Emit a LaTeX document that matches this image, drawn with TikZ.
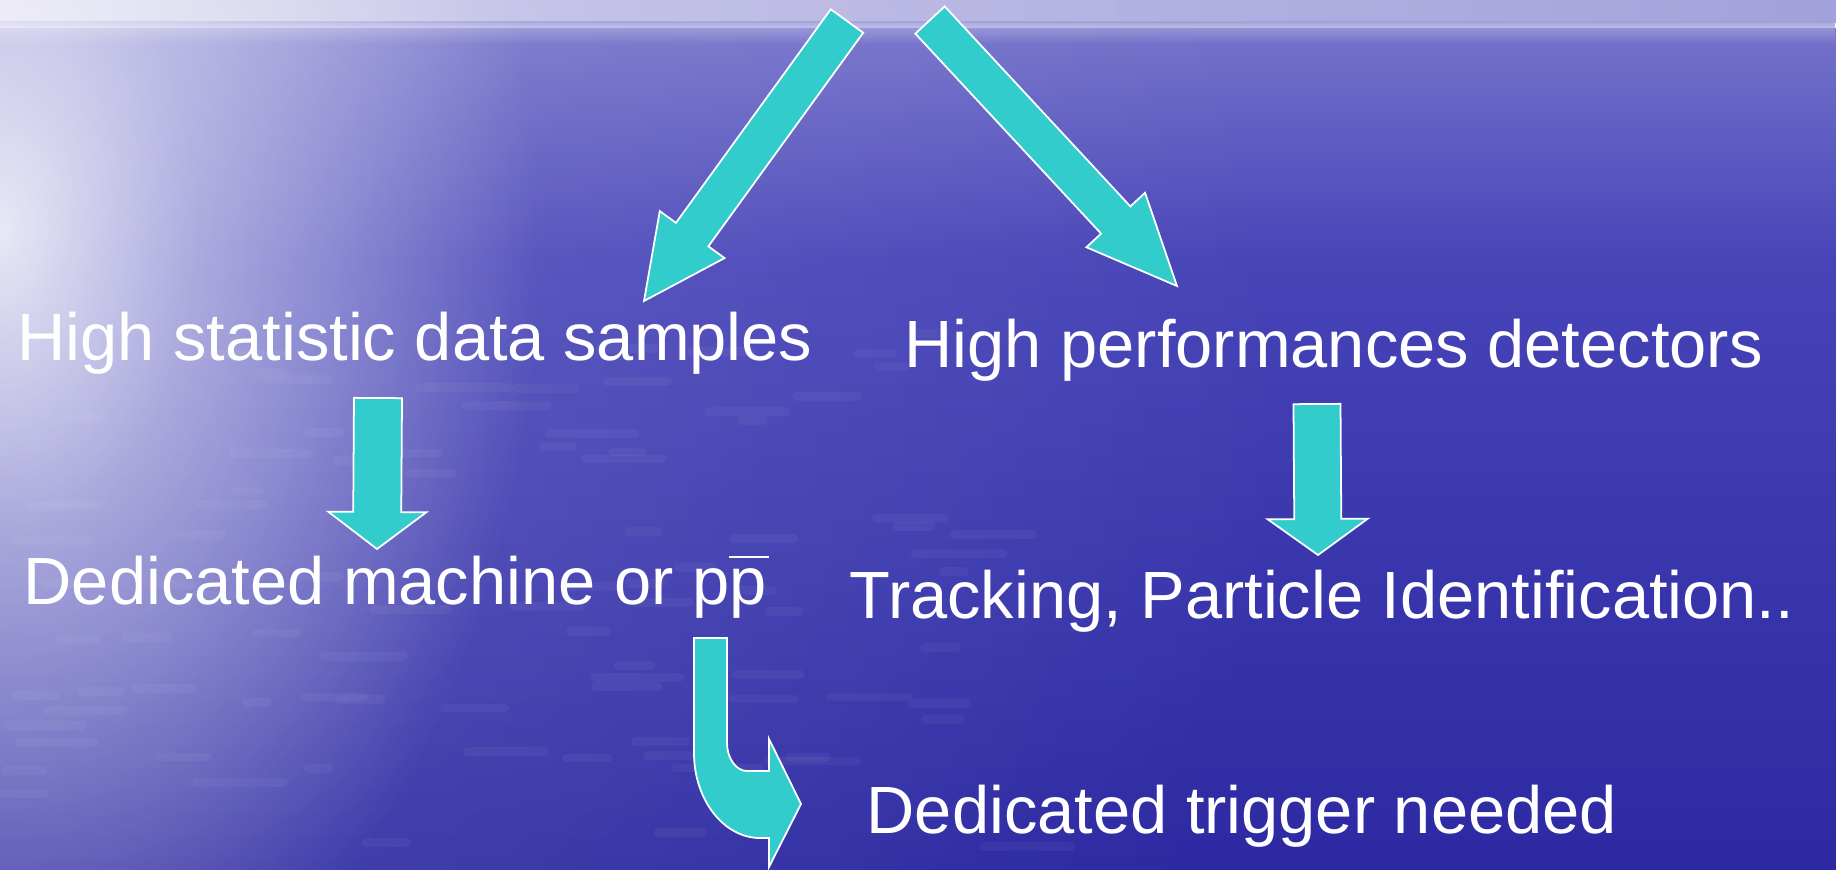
\documentclass[tikz,border=0pt]{standalone}
\usepackage{fontspec}
\setmainfont{Liberation Sans}
\usetikzlibrary{calc,fadings}
\definecolor{turchese}{HTML}{33CCCC}
\definecolor{lavandaSx}{HTML}{CDCBEA}
\definecolor{lavandaDx}{HTML}{A3A1DB}
\definecolor{mareAlto}{HTML}{7573CA}
\definecolor{mareMedio}{HTML}{4744B8}
\definecolor{mareBasso}{HTML}{2C29A2}

\pgfdeclareradialshading{alonesh}{\pgfpointorigin}{%
  color(0bp)=(white); color(9bp)=(white!55!black); color(25bp)=(black);
  color(50bp)=(black)}
\pgfdeclarefading{alone}{\pgfuseshading{alonesh}}

% block arrow: tail, tip, half shaft, half head, head length
\newcommand{\frecciona}[5]{%
  \coordinate (fb) at ($(#2)!#5!(#1)$);
  \filldraw[freccia] ($(#1)!#3!90:(#2)$) -- ($(fb)!#3!90:(#2)$)
    -- ($(fb)!#4!90:(#2)$) -- (#2) -- ($(fb)!#4!-90:(#2)$)
    -- ($(fb)!#3!-90:(#2)$) -- ($(#1)!#3!-90:(#2)$) -- cycle;}

\begin{document}
\begin{tikzpicture}[x=0.01cm,y=-0.01cm,
    freccia/.style={fill=turchese,draw=white,line width=.5pt,line join=miter},
    testo/.style={text=white,font=\fontsize{19}{23}\selectfont,
      inner sep=0pt,anchor=base west},
    onda/.style={white,opacity=.045,line width=2.5pt,line cap=round}]
  \useasboundingbox (0,0) rectangle (1836,869);

  % sea
  \shade[top color=mareAlto,bottom color=mareMedio] (0,28) rectangle (1836,261);
  \shade[top color=mareMedio,bottom color=mareBasso] (0,260) rectangle (1836,869);
  \shade[left color=lavandaSx,right color=lavandaDx] (0,0) rectangle (1836,22);
  \fill[lavandaDx,path fading=south] (0,21) rectangle (1836,44);
  \fill[white,opacity=.2,path fading=alone] (0,420) ellipse [x radius=13cm,y radius=12cm];
  \fill[white,opacity=.85,path fading=alone] (0,230) ellipse [x radius=5.4cm,y radius=8.4cm];
  \pgfmathsetseed{11}
  \foreach \i in {1,...,90}{
    \pgfmathsetmacro{\sx}{1000*rnd}
    \pgfmathsetmacro{\sy}{330+530*rnd}
    \pgfmathsetmacro{\sl}{20+70*rnd}
    \draw[onda] (\sx,\sy) -- ++(\sl,0);
  }

  % labels
  \node[testo] (stat) at (17,360) {High statistic data samples};
  \node[testo] (perf) at (904,367) {High performances detectors};
  \node[testo] (macc) at (23,604)
    {Dedicated machine or p\rlap{\rule[.69em]{.6em}{.035em}}p};
  \node[testo] (trac) at (849,618) {Tracking, Particle Identification..};
  \node[testo] (trig) at (866,833) {Dedicated trigger needed};

  % arrow ends
  \coordinate (sx0) at (847,21);   \coordinate (sx1) at (644,301);
  \coordinate (dx0) at (930,20);   \coordinate (dx1) at (1177,286);
  \coordinate (st0) at (378,398);  \coordinate (st1) at (377,549);
  \coordinate (pe0) at (1317,404); \coordinate (pe1) at (1318,555);

  \frecciona{sx0}{sx1}{.2cm}{.4cm}{.82cm}
  \frecciona{dx0}{dx1}{.2cm}{.4cm}{.9cm}
  \frecciona{st0}{st1}{.24cm}{.49cm}{.37cm}
  \frecciona{pe0}{pe1}{.235cm}{.5cm}{.36cm}

  % bent arrow towards the trigger
  \filldraw[freccia] (694,638) -- (727,638) -- (727,743)
    .. controls (727,758) and (736,771) .. (747,771) -- (769,771)
    -- (769,739) -- (801,804) -- (769,867) -- (769,838) -- (760,838)
    .. controls (724,838) and (694,800) .. (694,753) -- cycle;
\end{tikzpicture}
\end{document}
